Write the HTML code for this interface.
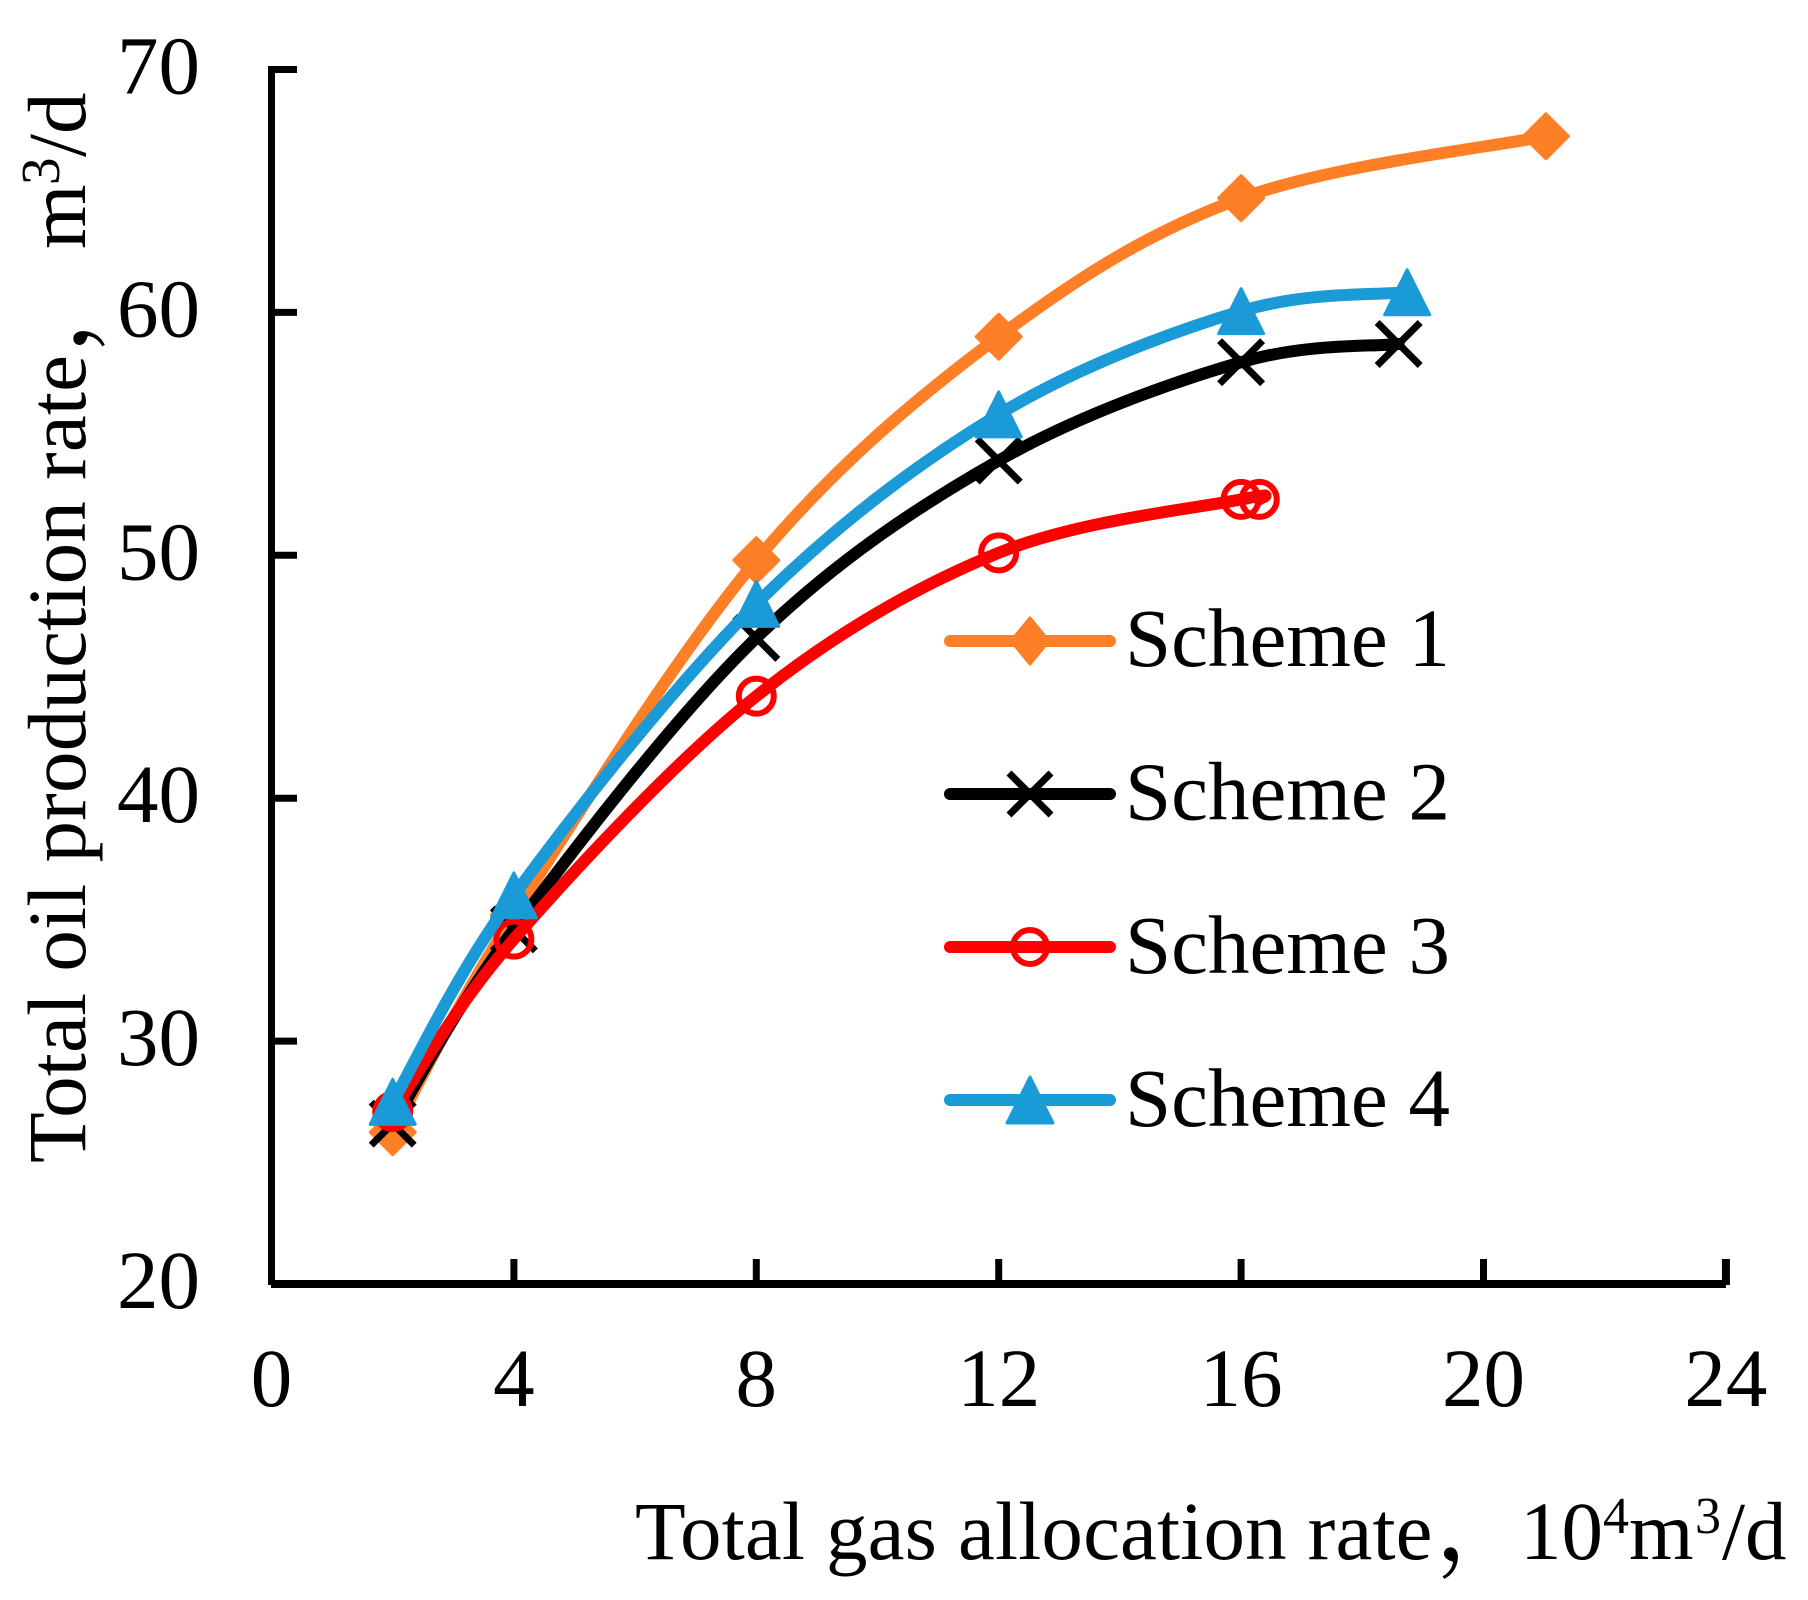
<!DOCTYPE html>
<html lang="en">
<head>
<meta charset="utf-8">
<title>Total oil production rate vs total gas allocation rate</title>
<style>
html,body{margin:0;padding:0;background:#fff;width:1808px;height:1600px;overflow:hidden}
svg{display:block}
text{font-family:"Liberation Serif","Noto Serif CJK SC",serif;fill:#000;font-size:83px}
</style>
</head>
<body>
<svg id="chart" width="1808" height="1600" viewBox="0 0 1808 1600" xmlns="http://www.w3.org/2000/svg">
  <text transform="translate(85,1163) rotate(-90)"><tspan x="0" y="0" letter-spacing="0.2">Total oil production rate</tspan><tspan x="809" y="0" font-size="100">，</tspan><tspan x="914" y="0">m</tspan><tspan x="978" y="-26" font-size="55">3</tspan><tspan x="1006" y="0">/d</tspan></text>
  <text transform="translate(635,1559)"><tspan x="0" y="0" letter-spacing="0.15">Total gas allocation rate</tspan><tspan x="800" y="0" font-size="100">，</tspan><tspan x="885" y="0">10</tspan><tspan x="968" y="-26" font-size="52">4</tspan><tspan x="994" y="0">m</tspan><tspan x="1060" y="-26" font-size="52">3</tspan><tspan x="1087" y="0">/d</tspan></text>
  <g id="plot"></g>
  <g id="axes"></g>
  <g id="legend"></g>
</svg>
<script>
const xTickLabels = [0, 4, 8, 12, 16, 20, 24];
const yTickLabels = [20, 30, 40, 50, 60, 70];
const seriesNames = ['Scheme 1', 'Scheme 2', 'Scheme 3', 'Scheme 4'];
const scheme1X = [2, 4, 8, 12, 16, 21.03];
const scheme1Y = [26.25, 35.2, 49.8, 59.0, 64.7, 67.25];
const scheme2X = [2, 4, 8, 12, 16, 18.6];
const scheme2Y = [26.6, 34.6, 46.6, 53.9, 57.95, 58.7];
const scheme3X = [2, 4, 8, 12, 16, 16.3];
const scheme3Y = [27.1, 34.2, 44.2, 50.1, 52.3, 52.3];
const scheme4X = [2, 4, 8, 12, 16, 18.74];
const scheme4Y = [27.5, 36.0, 48.0, 55.8, 60.05, 60.83];

const NS = 'http://www.w3.org/2000/svg';
const sx = v => 271.5 + v * 60.6;
const sy = v => 1284 - (v - 20) * 24.29;

function make(parent, tag, attrs) {
  const el = document.createElementNS(NS, tag);
  for (const k in attrs) el.setAttribute(k, attrs[k]);
  parent.appendChild(el);
  return el;
}

function smoothPath(pts) {
  let d = 'M' + pts[0][0] + ' ' + pts[0][1];
  for (let i = 0; i < pts.length - 1; i++) {
    const p0 = pts[Math.max(i - 1, 0)];
    const p1 = pts[i];
    const p2 = pts[i + 1];
    const p3 = pts[Math.min(i + 2, pts.length - 1)];
    const c1x = p1[0] + (p2[0] - p0[0]) / 6;
    const c1y = p1[1] + (p2[1] - p0[1]) / 6;
    const c2x = p2[0] - (p3[0] - p1[0]) / 6;
    const c2y = p2[1] - (p3[1] - p1[1]) / 6;
    d += ' C' + c1x + ' ' + c1y + ' ' + c2x + ' ' + c2y + ' ' + p2[0] + ' ' + p2[1];
  }
  return d;
}

function drawMarker(parent, kind, cx, cy, color, w, h) {
  let m;
  if (kind === 'diamond') {
    const a = w / 2 - 1.5, b = h / 2 - 1.5;
    m = make(parent, 'polygon', {
      points: cx + ',' + (cy - b) + ' ' + (cx + a) + ',' + cy + ' ' + cx + ',' + (cy + b) + ' ' + (cx - a) + ',' + cy,
      fill: color, stroke: color, 'stroke-width': 3, 'stroke-linejoin': 'round'
    });
  } else if (kind === 'cross') {
    const a = w / 2 - 2.5, b = h / 2 - 2.5;
    m = make(parent, 'path', {
      d: 'M' + (cx - a) + ' ' + (cy - b) + ' L' + (cx + a) + ' ' + (cy + b) + ' M' + (cx + a) + ' ' + (cy - b) + ' L' + (cx - a) + ' ' + (cy + b),
      fill: 'none', stroke: color, 'stroke-width': 7
    });
  } else if (kind === 'circle') {
    m = make(parent, 'circle', { cx: cx, cy: cy, r: w / 2 - 3, fill: 'none', stroke: color, 'stroke-width': 6 });
  } else {
    const a = w / 2 - 1.5, b = h / 2 - 1.5;
    m = make(parent, 'polygon', {
      points: cx + ',' + (cy - b) + ' ' + (cx + a) + ',' + (cy + b) + ' ' + (cx - a) + ',' + (cy + b),
      fill: color, stroke: color, 'stroke-width': 3, 'stroke-linejoin': 'round'
    });
  }
  return m;
}

const xs = [scheme1X, scheme2X, scheme3X, scheme4X];
const ys = [scheme1Y, scheme2Y, scheme3Y, scheme4Y];
const colors = ['#FF7F27', '#000000', '#FF0000', '#1A9BD7'];
const kinds = ['diamond', 'cross', 'circle', 'triangle'];
const plot = document.getElementById('plot');

seriesNames.forEach((name, s) => {
  const pts = xs[s].map((x, i) => [sx(x), sy(ys[s][i])]);
  const g = make(plot, 'g', {});
  
  
  const line = make(g, 'path', {
    d: smoothPath(pts), fill: 'none', stroke: colors[s], 'stroke-width': 12,
    'stroke-linecap': 'round', 'stroke-linejoin': 'round'
  });
  
  
  pts.forEach(p => {
    const size = kinds[s] === 'circle' ? 41 : 48;
    const m = drawMarker(g, kinds[s], p[0], p[1], colors[s], size, size);
    
    
  });
});

const axes = document.getElementById('axes');
const yLine = make(axes, 'line', { x1: 271.5, y1: 66, x2: 271.5, y2: 1285, stroke: '#000', 'stroke-width': 7 });


const xLine = make(axes, 'line', { x1: 271, y1: 1284, x2: sx(24), y2: 1284, stroke: '#000', 'stroke-width': 8 });



yTickLabels.forEach(v => {
  if (v !== 20) {
    const t = make(axes, 'line', { x1: 271, y1: sy(v), x2: 297, y2: sy(v), stroke: '#000', 'stroke-width': 7 });
    
    
  }
  const l = make(axes, 'text', { x: 200, y: sy(v) + 24, 'text-anchor': 'end' });
  l.textContent = v;
  
  
});

xTickLabels.forEach(v => {
  if (v !== 0) {
    const t = make(axes, 'line', { x1: sx(v), y1: 1285, x2: sx(v), y2: 1259, stroke: '#000', 'stroke-width': v === 24 ? 8 : 7 });
    
    
  }
  const l = make(axes, 'text', { x: sx(v), y: 1406, 'text-anchor': 'middle' });
  l.textContent = v;
  
  
});

const legend = document.getElementById('legend');
const legendLineY = [641, 794, 947, 1100];
const legendTextY = [666, 819.5, 973, 1126];
seriesNames.forEach((name, s) => {
  const g = make(legend, 'g', {});
  
  
  const k = make(g, 'line', {
    x1: 950, y1: legendLineY[s], x2: 1110, y2: legendLineY[s], stroke: colors[s],
    'stroke-width': 12, 'stroke-linecap': 'round'
  });
  
  
  const w = [41, 47, 40, 49][s];
  const h = [49, 47, 40, 49][s];
  const m = drawMarker(g, kinds[s], 1030, legendLineY[s], colors[s], w, h);
  
  
  const t = make(g, 'text', { x: 1125, y: legendTextY[s] });
  t.textContent = name;
  
  
});
</script>
</body>
</html>
